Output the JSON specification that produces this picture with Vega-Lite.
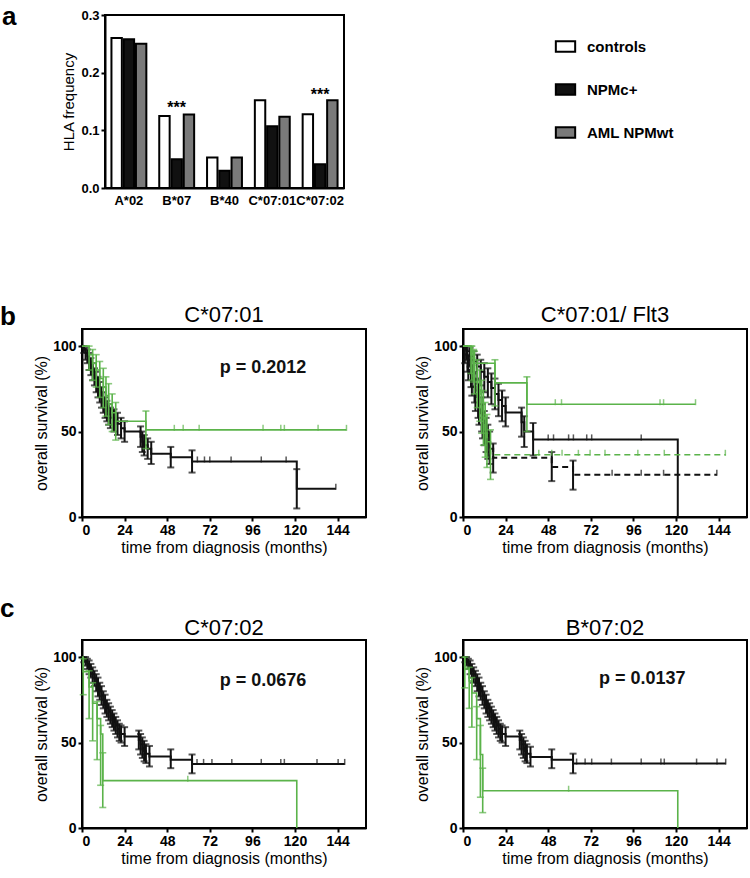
{
  "$schema": "https://vega.github.io/schema/vega-lite/v6.json",
  "padding": {"left": 0, "top": 3, "right": 2, "bottom": 0},
  "background": "white",
  "config": {
    "font": "Liberation Sans",
    "view": {"stroke": "black", "strokeWidth": 2},
    "axis": {"domainColor": "black", "domainWidth": 2, "tickColor": "black", "tickWidth": 2, "tickSize": 4, "labelColor": "black", "labelFontWeight": "bold", "labelFontSize": 14, "titleColor": "black", "titleFontWeight": "normal", "titleFontSize": 16, "grid": false, "labelPadding": 2, "titlePadding": 3},
    "title": {"color": "black", "fontWeight": "normal", "font": "Liberation Sans"}
  },
  "datasets": {
    "steps": [
      {"p":"b1","c":"k","g":"k","d":"solid","t":0,"s":100},{"p":"b1","c":"k","g":"k","d":"solid","t":1,"s":98},{"p":"b1","c":"k","g":"k","d":"solid","t":2,"s":96},{"p":"b1","c":"k","g":"k","d":"solid","t":3,"s":94},{"p":"b1","c":"k","g":"k","d":"solid","t":4,"s":91},{"p":"b1","c":"k","g":"k","d":"solid","t":5,"s":88},{"p":"b1","c":"k","g":"k","d":"solid","t":6,"s":85},{"p":"b1","c":"k","g":"k","d":"solid","t":7,"s":82},{"p":"b1","c":"k","g":"k","d":"solid","t":8,"s":79},{"p":"b1","c":"k","g":"k","d":"solid","t":9,"s":76},{"p":"b1","c":"k","g":"k","d":"solid","t":10,"s":73},{"p":"b1","c":"k","g":"k","d":"solid","t":11,"s":70},{"p":"b1","c":"k","g":"k","d":"solid","t":12,"s":67},{"p":"b1","c":"k","g":"k","d":"solid","t":13,"s":64},{"p":"b1","c":"k","g":"k","d":"solid","t":14,"s":62},{"p":"b1","c":"k","g":"k","d":"solid","t":15,"s":60},{"p":"b1","c":"k","g":"k","d":"solid","t":16,"s":58},{"p":"b1","c":"k","g":"k","d":"solid","t":18,"s":56.5},{"p":"b1","c":"k","g":"k","d":"solid","t":20,"s":54.5},{"p":"b1","c":"k","g":"k","d":"solid","t":22,"s":52},{"p":"b1","c":"k","g":"k","d":"solid","t":24,"s":50},{"p":"b1","c":"k","g":"k","d":"solid","t":33,"s":47},{"p":"b1","c":"k","g":"k","d":"solid","t":34,"s":44},{"p":"b1","c":"k","g":"k","d":"solid","t":35,"s":42},{"p":"b1","c":"k","g":"k","d":"solid","t":37,"s":40},{"p":"b1","c":"k","g":"k","d":"solid","t":39,"s":37},{"p":"b1","c":"k","g":"k","d":"solid","t":50,"s":35},{"p":"b1","c":"k","g":"k","d":"solid","t":62,"s":32.5},{"p":"b1","c":"k","g":"k","d":"solid","t":121,"s":16.5},{"p":"b1","c":"k","g":"k","d":"solid","t":143,"s":16.5},
      {"p":"b1","c":"g","g":"g","d":"solid","t":0,"s":100},{"p":"b1","c":"g","g":"g","d":"solid","t":4,"s":95},{"p":"b1","c":"g","g":"g","d":"solid","t":6,"s":90},{"p":"b1","c":"g","g":"g","d":"solid","t":8,"s":86},{"p":"b1","c":"g","g":"g","d":"solid","t":10,"s":81},{"p":"b1","c":"g","g":"g","d":"solid","t":12,"s":76},{"p":"b1","c":"g","g":"g","d":"solid","t":13.5,"s":71},{"p":"b1","c":"g","g":"g","d":"solid","t":15,"s":66},{"p":"b1","c":"g","g":"g","d":"solid","t":17,"s":61},{"p":"b1","c":"g","g":"g","d":"solid","t":19,"s":56},{"p":"b1","c":"g","g":"g","d":"solid","t":36,"s":51},{"p":"b1","c":"g","g":"g","d":"solid","t":149,"s":51},
      {"p":"b2","c":"g1","g":"g","d":"solid","t":0,"s":100},{"p":"b2","c":"g1","g":"g","d":"solid","t":4.5,"s":95},{"p":"b2","c":"g1","g":"g","d":"solid","t":6,"s":90},{"p":"b2","c":"g1","g":"g","d":"solid","t":18,"s":78.5},{"p":"b2","c":"g1","g":"g","d":"solid","t":36,"s":66},{"p":"b2","c":"g1","g":"g","d":"solid","t":131,"s":66},
      {"p":"b2","c":"g2","g":"g","d":"dash","t":0,"s":100},{"p":"b2","c":"g2","g":"g","d":"dash","t":5,"s":93},{"p":"b2","c":"g2","g":"g","d":"dash","t":6.5,"s":86},{"p":"b2","c":"g2","g":"g","d":"dash","t":8,"s":79},{"p":"b2","c":"g2","g":"g","d":"dash","t":9.5,"s":72},{"p":"b2","c":"g2","g":"g","d":"dash","t":10.5,"s":65},{"p":"b2","c":"g2","g":"g","d":"dash","t":11.5,"s":58},{"p":"b2","c":"g2","g":"g","d":"dash","t":12.5,"s":51},{"p":"b2","c":"g2","g":"g","d":"dash","t":13.5,"s":44},{"p":"b2","c":"g2","g":"g","d":"dash","t":15.5,"s":36.4},{"p":"b2","c":"g2","g":"g","d":"dash","t":148,"s":36.4},
      {"p":"b2","c":"k1","g":"k","d":"solid","t":0,"s":100},{"p":"b2","c":"k1","g":"k","d":"solid","t":2,"s":97},{"p":"b2","c":"k1","g":"k","d":"solid","t":4,"s":94},{"p":"b2","c":"k1","g":"k","d":"solid","t":6,"s":91},{"p":"b2","c":"k1","g":"k","d":"solid","t":8,"s":88},{"p":"b2","c":"k1","g":"k","d":"solid","t":10,"s":85},{"p":"b2","c":"k1","g":"k","d":"solid","t":12,"s":82},{"p":"b2","c":"k1","g":"k","d":"solid","t":14,"s":79},{"p":"b2","c":"k1","g":"k","d":"solid","t":16,"s":75.5},{"p":"b2","c":"k1","g":"k","d":"solid","t":18,"s":72},{"p":"b2","c":"k1","g":"k","d":"solid","t":20,"s":68.5},{"p":"b2","c":"k1","g":"k","d":"solid","t":22,"s":65},{"p":"b2","c":"k1","g":"k","d":"solid","t":24,"s":61.2},{"p":"b2","c":"k1","g":"k","d":"solid","t":33,"s":55.5},{"p":"b2","c":"k1","g":"k","d":"solid","t":34.5,"s":50},{"p":"b2","c":"k1","g":"k","d":"solid","t":39.5,"s":45.4},{"p":"b2","c":"k1","g":"k","d":"solid","t":121,"s":0},
      {"p":"b2","c":"k2","g":"k","d":"dash","t":0,"s":100},{"p":"b2","c":"k2","g":"k","d":"dash","t":1,"s":96},{"p":"b2","c":"k2","g":"k","d":"dash","t":2,"s":92},{"p":"b2","c":"k2","g":"k","d":"dash","t":3,"s":88},{"p":"b2","c":"k2","g":"k","d":"dash","t":4,"s":84},{"p":"b2","c":"k2","g":"k","d":"dash","t":5,"s":80},{"p":"b2","c":"k2","g":"k","d":"dash","t":6,"s":76},{"p":"b2","c":"k2","g":"k","d":"dash","t":7,"s":72},{"p":"b2","c":"k2","g":"k","d":"dash","t":8,"s":68},{"p":"b2","c":"k2","g":"k","d":"dash","t":9,"s":64},{"p":"b2","c":"k2","g":"k","d":"dash","t":10,"s":60},{"p":"b2","c":"k2","g":"k","d":"dash","t":11,"s":56},{"p":"b2","c":"k2","g":"k","d":"dash","t":12,"s":52},{"p":"b2","c":"k2","g":"k","d":"dash","t":13,"s":48},{"p":"b2","c":"k2","g":"k","d":"dash","t":14,"s":44},{"p":"b2","c":"k2","g":"k","d":"dash","t":15,"s":40},{"p":"b2","c":"k2","g":"k","d":"dash","t":17,"s":34.6},{"p":"b2","c":"k2","g":"k","d":"dash","t":50,"s":29.3},{"p":"b2","c":"k2","g":"k","d":"dash","t":62,"s":24.7},{"p":"b2","c":"k2","g":"k","d":"dash","t":143,"s":24.7},
      {"p":"c1","c":"k","g":"k","d":"solid","t":0,"s":100},{"p":"c1","c":"k","g":"k","d":"solid","t":1,"s":99},{"p":"c1","c":"k","g":"k","d":"solid","t":2,"s":97.5},{"p":"c1","c":"k","g":"k","d":"solid","t":3,"s":96},{"p":"c1","c":"k","g":"k","d":"solid","t":4,"s":94},{"p":"c1","c":"k","g":"k","d":"solid","t":5,"s":92},{"p":"c1","c":"k","g":"k","d":"solid","t":6,"s":90},{"p":"c1","c":"k","g":"k","d":"solid","t":7,"s":87.5},{"p":"c1","c":"k","g":"k","d":"solid","t":8,"s":85},{"p":"c1","c":"k","g":"k","d":"solid","t":9,"s":82.5},{"p":"c1","c":"k","g":"k","d":"solid","t":10,"s":80},{"p":"c1","c":"k","g":"k","d":"solid","t":11,"s":77.5},{"p":"c1","c":"k","g":"k","d":"solid","t":12,"s":75},{"p":"c1","c":"k","g":"k","d":"solid","t":13,"s":72.5},{"p":"c1","c":"k","g":"k","d":"solid","t":14,"s":70},{"p":"c1","c":"k","g":"k","d":"solid","t":15,"s":68},{"p":"c1","c":"k","g":"k","d":"solid","t":16,"s":66},{"p":"c1","c":"k","g":"k","d":"solid","t":17,"s":64},{"p":"c1","c":"k","g":"k","d":"solid","t":18,"s":62},{"p":"c1","c":"k","g":"k","d":"solid","t":19,"s":60},{"p":"c1","c":"k","g":"k","d":"solid","t":20,"s":58},{"p":"c1","c":"k","g":"k","d":"solid","t":21,"s":56},{"p":"c1","c":"k","g":"k","d":"solid","t":22,"s":55},{"p":"c1","c":"k","g":"k","d":"solid","t":24,"s":53.6},{"p":"c1","c":"k","g":"k","d":"solid","t":32,"s":51.5},{"p":"c1","c":"k","g":"k","d":"solid","t":33,"s":49},{"p":"c1","c":"k","g":"k","d":"solid","t":34,"s":47},{"p":"c1","c":"k","g":"k","d":"solid","t":35,"s":45},{"p":"c1","c":"k","g":"k","d":"solid","t":36,"s":43.5},{"p":"c1","c":"k","g":"k","d":"solid","t":38,"s":41.8},{"p":"c1","c":"k","g":"k","d":"solid","t":50,"s":40},{"p":"c1","c":"k","g":"k","d":"solid","t":62,"s":37.5},{"p":"c1","c":"k","g":"k","d":"solid","t":148,"s":37.5},
      {"p":"c1","c":"g","g":"g","d":"solid","t":0,"s":100},{"p":"c1","c":"g","g":"g","d":"solid","t":0.7,"s":91.5},{"p":"c1","c":"g","g":"g","d":"solid","t":4,"s":82.5},{"p":"c1","c":"g","g":"g","d":"solid","t":6,"s":73},{"p":"c1","c":"g","g":"g","d":"solid","t":8.5,"s":64},{"p":"c1","c":"g","g":"g","d":"solid","t":10.5,"s":55},{"p":"c1","c":"g","g":"g","d":"solid","t":11.7,"s":27.7},{"p":"c1","c":"g","g":"g","d":"solid","t":121,"s":0},
      {"p":"c2","c":"k","g":"k","d":"solid","t":0,"s":100},{"p":"c2","c":"k","g":"k","d":"solid","t":1,"s":99},{"p":"c2","c":"k","g":"k","d":"solid","t":2,"s":97.5},{"p":"c2","c":"k","g":"k","d":"solid","t":3,"s":96},{"p":"c2","c":"k","g":"k","d":"solid","t":4,"s":94},{"p":"c2","c":"k","g":"k","d":"solid","t":5,"s":92},{"p":"c2","c":"k","g":"k","d":"solid","t":6,"s":90},{"p":"c2","c":"k","g":"k","d":"solid","t":7,"s":87.5},{"p":"c2","c":"k","g":"k","d":"solid","t":8,"s":85},{"p":"c2","c":"k","g":"k","d":"solid","t":9,"s":82.5},{"p":"c2","c":"k","g":"k","d":"solid","t":10,"s":80},{"p":"c2","c":"k","g":"k","d":"solid","t":11,"s":77.5},{"p":"c2","c":"k","g":"k","d":"solid","t":12,"s":75},{"p":"c2","c":"k","g":"k","d":"solid","t":13,"s":72.5},{"p":"c2","c":"k","g":"k","d":"solid","t":14,"s":70},{"p":"c2","c":"k","g":"k","d":"solid","t":15,"s":68},{"p":"c2","c":"k","g":"k","d":"solid","t":16,"s":66},{"p":"c2","c":"k","g":"k","d":"solid","t":17,"s":64},{"p":"c2","c":"k","g":"k","d":"solid","t":18,"s":62},{"p":"c2","c":"k","g":"k","d":"solid","t":19,"s":60},{"p":"c2","c":"k","g":"k","d":"solid","t":20,"s":58},{"p":"c2","c":"k","g":"k","d":"solid","t":21,"s":56},{"p":"c2","c":"k","g":"k","d":"solid","t":22,"s":55},{"p":"c2","c":"k","g":"k","d":"solid","t":24,"s":53.6},{"p":"c2","c":"k","g":"k","d":"solid","t":32,"s":51.5},{"p":"c2","c":"k","g":"k","d":"solid","t":33,"s":49},{"p":"c2","c":"k","g":"k","d":"solid","t":34,"s":47},{"p":"c2","c":"k","g":"k","d":"solid","t":35,"s":45},{"p":"c2","c":"k","g":"k","d":"solid","t":36,"s":43.5},{"p":"c2","c":"k","g":"k","d":"solid","t":38,"s":41.5},{"p":"c2","c":"k","g":"k","d":"solid","t":50,"s":40},{"p":"c2","c":"k","g":"k","d":"solid","t":62,"s":37.7},{"p":"c2","c":"k","g":"k","d":"solid","t":148,"s":37.7},
      {"p":"c2","c":"g","g":"g","d":"solid","t":0,"s":100},{"p":"c2","c":"g","g":"g","d":"solid","t":1,"s":93},{"p":"c2","c":"g","g":"g","d":"solid","t":3.5,"s":86},{"p":"c2","c":"g","g":"g","d":"solid","t":5,"s":79},{"p":"c2","c":"g","g":"g","d":"solid","t":7.7,"s":64},{"p":"c2","c":"g","g":"g","d":"solid","t":9.8,"s":43},{"p":"c2","c":"g","g":"g","d":"solid","t":11.1,"s":21.8},{"p":"c2","c":"g","g":"g","d":"solid","t":121,"s":0}
    ],
    "bars": [
      {"p":"b1","g":"k","t":1,"s":96,"s2":100},{"p":"b1","g":"k","t":2,"s":92,"s2":99},{"p":"b1","g":"k","t":3,"s":90,"s2":98},{"p":"b1","g":"k","t":4,"s":86,"s2":96},{"p":"b1","g":"k","t":5,"s":83,"s2":93},{"p":"b1","g":"k","t":6,"s":80,"s2":90},{"p":"b1","g":"k","t":7,"s":77,"s2":87},{"p":"b1","g":"k","t":8,"s":73,"s2":85},{"p":"b1","g":"k","t":9,"s":70,"s2":82},{"p":"b1","g":"k","t":10,"s":67,"s2":79},{"p":"b1","g":"k","t":11,"s":64,"s2":76},{"p":"b1","g":"k","t":12,"s":61,"s2":73},{"p":"b1","g":"k","t":13,"s":58,"s2":70},{"p":"b1","g":"k","t":14,"s":56,"s2":68},{"p":"b1","g":"k","t":15,"s":54,"s2":66},{"p":"b1","g":"k","t":16,"s":52,"s2":64},{"p":"b1","g":"k","t":18,"s":50,"s2":63},{"p":"b1","g":"k","t":20,"s":48,"s2":61},{"p":"b1","g":"k","t":22,"s":46,"s2":58},{"p":"b1","g":"k","t":24,"s":44,"s2":56},{"p":"b1","g":"k","t":33,"s":41,"s2":53},{"p":"b1","g":"k","t":34,"s":38,"s2":50},{"p":"b1","g":"k","t":35,"s":36,"s2":48},{"p":"b1","g":"k","t":37,"s":34,"s2":46},{"p":"b1","g":"k","t":39,"s":31,"s2":44},{"p":"b1","g":"k","t":50,"s":29,"s2":41},{"p":"b1","g":"k","t":62,"s":26,"s2":39},{"p":"b1","g":"k","t":121,"s":5,"s2":28},
      {"p":"b1","g":"g","t":4,"s":86,"s2":100},{"p":"b1","g":"g","t":6,"s":80,"s2":98},{"p":"b1","g":"g","t":8,"s":76,"s2":95},{"p":"b1","g":"g","t":10,"s":70,"s2":91},{"p":"b1","g":"g","t":12,"s":64,"s2":87},{"p":"b1","g":"g","t":13.5,"s":59,"s2":82},{"p":"b1","g":"g","t":15,"s":54,"s2":78},{"p":"b1","g":"g","t":17,"s":50,"s2":72},{"p":"b1","g":"g","t":19,"s":45,"s2":67},{"p":"b1","g":"g","t":36,"s":40,"s2":62},
      {"p":"b2","g":"g","t":4.5,"s":84,"s2":100},{"p":"b2","g":"g","t":6,"s":79,"s2":98},{"p":"b2","g":"g","t":18,"s":65,"s2":92},{"p":"b2","g":"g","t":36,"s":50,"s2":82},
      {"p":"b2","g":"g","t":5,"s":80,"s2":100},{"p":"b2","g":"g","t":6.5,"s":72,"s2":97},{"p":"b2","g":"g","t":8,"s":64,"s2":92},{"p":"b2","g":"g","t":9.5,"s":56,"s2":86},{"p":"b2","g":"g","t":10.5,"s":49,"s2":80},{"p":"b2","g":"g","t":11.5,"s":42,"s2":74},{"p":"b2","g":"g","t":12.5,"s":35,"s2":67},{"p":"b2","g":"g","t":13.5,"s":29,"s2":60},{"p":"b2","g":"g","t":15.5,"s":22,"s2":51},
      {"p":"b2","g":"k","t":2,"s":92,"s2":100},{"p":"b2","g":"k","t":4,"s":88,"s2":99},{"p":"b2","g":"k","t":6,"s":84,"s2":97},{"p":"b2","g":"k","t":8,"s":80,"s2":95},{"p":"b2","g":"k","t":10,"s":77,"s2":92},{"p":"b2","g":"k","t":12,"s":73,"s2":90},{"p":"b2","g":"k","t":14,"s":70,"s2":87},{"p":"b2","g":"k","t":16,"s":66,"s2":84},{"p":"b2","g":"k","t":18,"s":63,"s2":81},{"p":"b2","g":"k","t":20,"s":59,"s2":78},{"p":"b2","g":"k","t":22,"s":56,"s2":74},{"p":"b2","g":"k","t":24,"s":53,"s2":70},{"p":"b2","g":"k","t":33,"s":47,"s2":64},{"p":"b2","g":"k","t":34.5,"s":41,"s2":59},{"p":"b2","g":"k","t":39.5,"s":36,"s2":55},
      {"p":"b2","g":"k","t":1,"s":90,"s2":100},{"p":"b2","g":"k","t":2.5,"s":85,"s2":98},{"p":"b2","g":"k","t":3,"s":80,"s2":95},{"p":"b2","g":"k","t":4.5,"s":76,"s2":92},{"p":"b2","g":"k","t":5,"s":71,"s2":89},{"p":"b2","g":"k","t":6.5,"s":67,"s2":85},{"p":"b2","g":"k","t":7,"s":62,"s2":81},{"p":"b2","g":"k","t":8.5,"s":58,"s2":78},{"p":"b2","g":"k","t":9,"s":54,"s2":74},{"p":"b2","g":"k","t":10.5,"s":50,"s2":70},{"p":"b2","g":"k","t":11,"s":46,"s2":66},{"p":"b2","g":"k","t":12,"s":42,"s2":62},{"p":"b2","g":"k","t":13,"s":38,"s2":58},{"p":"b2","g":"k","t":14,"s":34,"s2":54},{"p":"b2","g":"k","t":15,"s":31,"s2":50},{"p":"b2","g":"k","t":17,"s":26,"s2":43},{"p":"b2","g":"k","t":50,"s":21,"s2":38},{"p":"b2","g":"k","t":62,"s":16,"s2":33},
      {"p":"c1","g":"k","t":1,"s":97,"s2":100},{"p":"c1","g":"k","t":2,"s":95,"s2":100},{"p":"c1","g":"k","t":3,"s":93,"s2":99},{"p":"c1","g":"k","t":4,"s":90,"s2":98},{"p":"c1","g":"k","t":5,"s":88,"s2":96},{"p":"c1","g":"k","t":6,"s":85,"s2":94},{"p":"c1","g":"k","t":7,"s":83,"s2":92},{"p":"c1","g":"k","t":8,"s":80,"s2":90},{"p":"c1","g":"k","t":9,"s":77,"s2":88},{"p":"c1","g":"k","t":10,"s":75,"s2":85},{"p":"c1","g":"k","t":11,"s":72,"s2":83},{"p":"c1","g":"k","t":12,"s":70,"s2":80},{"p":"c1","g":"k","t":13,"s":67,"s2":78},{"p":"c1","g":"k","t":14,"s":65,"s2":75},{"p":"c1","g":"k","t":15,"s":63,"s2":73},{"p":"c1","g":"k","t":16,"s":61,"s2":71},{"p":"c1","g":"k","t":17,"s":59,"s2":69},{"p":"c1","g":"k","t":18,"s":57,"s2":67},{"p":"c1","g":"k","t":19,"s":55,"s2":65},{"p":"c1","g":"k","t":20,"s":53,"s2":63},{"p":"c1","g":"k","t":21,"s":51,"s2":61},{"p":"c1","g":"k","t":22,"s":50,"s2":60},{"p":"c1","g":"k","t":24,"s":48,"s2":59},{"p":"c1","g":"k","t":32,"s":46,"s2":57},{"p":"c1","g":"k","t":33,"s":43,"s2":55},{"p":"c1","g":"k","t":34,"s":41,"s2":53},{"p":"c1","g":"k","t":35,"s":39,"s2":51},{"p":"c1","g":"k","t":36,"s":38,"s2":49},{"p":"c1","g":"k","t":38,"s":36,"s2":48},{"p":"c1","g":"k","t":50,"s":35,"s2":46},{"p":"c1","g":"k","t":62,"s":32,"s2":43},
      {"p":"c1","g":"g","t":0.7,"s":78,"s2":99},{"p":"c1","g":"g","t":4,"s":64,"s2":92},{"p":"c1","g":"g","t":6,"s":51,"s2":85},{"p":"c1","g":"g","t":8.5,"s":40,"s2":74},{"p":"c1","g":"g","t":10.5,"s":25,"s2":60},{"p":"c1","g":"g","t":11.7,"s":12,"s2":44},
      {"p":"c2","g":"k","t":1,"s":97,"s2":100},{"p":"c2","g":"k","t":2,"s":95,"s2":100},{"p":"c2","g":"k","t":3,"s":93,"s2":99},{"p":"c2","g":"k","t":4,"s":90,"s2":98},{"p":"c2","g":"k","t":5,"s":88,"s2":96},{"p":"c2","g":"k","t":6,"s":85,"s2":94},{"p":"c2","g":"k","t":7,"s":83,"s2":92},{"p":"c2","g":"k","t":8,"s":80,"s2":90},{"p":"c2","g":"k","t":9,"s":77,"s2":88},{"p":"c2","g":"k","t":10,"s":75,"s2":85},{"p":"c2","g":"k","t":11,"s":72,"s2":83},{"p":"c2","g":"k","t":12,"s":70,"s2":80},{"p":"c2","g":"k","t":13,"s":67,"s2":78},{"p":"c2","g":"k","t":14,"s":65,"s2":75},{"p":"c2","g":"k","t":15,"s":63,"s2":73},{"p":"c2","g":"k","t":16,"s":61,"s2":71},{"p":"c2","g":"k","t":17,"s":59,"s2":69},{"p":"c2","g":"k","t":18,"s":57,"s2":67},{"p":"c2","g":"k","t":19,"s":55,"s2":65},{"p":"c2","g":"k","t":20,"s":53,"s2":63},{"p":"c2","g":"k","t":21,"s":51,"s2":61},{"p":"c2","g":"k","t":22,"s":50,"s2":60},{"p":"c2","g":"k","t":24,"s":48,"s2":59},{"p":"c2","g":"k","t":32,"s":46,"s2":57},{"p":"c2","g":"k","t":33,"s":43,"s2":55},{"p":"c2","g":"k","t":34,"s":41,"s2":53},{"p":"c2","g":"k","t":35,"s":39,"s2":51},{"p":"c2","g":"k","t":36,"s":38,"s2":49},{"p":"c2","g":"k","t":38,"s":36,"s2":47.5},{"p":"c2","g":"k","t":50,"s":35,"s2":46},{"p":"c2","g":"k","t":62,"s":32,"s2":43.5},
      {"p":"c2","g":"g","t":1,"s":82,"s2":100},{"p":"c2","g":"g","t":3.5,"s":70,"s2":94},{"p":"c2","g":"g","t":5,"s":59,"s2":88},{"p":"c2","g":"g","t":7.7,"s":40,"s2":71},{"p":"c2","g":"g","t":9.8,"s":18,"s2":60},{"p":"c2","g":"g","t":11.1,"s":9,"s2":35}
    ],
    "cens": [
      {"p":"b1","g":"k","t":65,"s":32.5},{"p":"b1","g":"k","t":69,"s":32.5},{"p":"b1","g":"k","t":72,"s":32.5},{"p":"b1","g":"k","t":84,"s":32.5},{"p":"b1","g":"k","t":101,"s":32.5},{"p":"b1","g":"k","t":115,"s":32.5},{"p":"b1","g":"k","t":143,"s":16.5},
      {"p":"b1","g":"g","t":52,"s":51},{"p":"b1","g":"g","t":57,"s":51},{"p":"b1","g":"g","t":66,"s":51},{"p":"b1","g":"g","t":102,"s":51},{"p":"b1","g":"g","t":112,"s":51},{"p":"b1","g":"g","t":114,"s":51},{"p":"b1","g":"g","t":133,"s":51},{"p":"b1","g":"g","t":149,"s":51},
      {"p":"b2","g":"g","t":52,"s":66},{"p":"b2","g":"g","t":55.5,"s":66},{"p":"b2","g":"g","t":111,"s":66},{"p":"b2","g":"g","t":113,"s":66},{"p":"b2","g":"g","t":131,"s":66},
      {"p":"b2","g":"g","t":42.7,"s":36.4},{"p":"b2","g":"g","t":50,"s":36.4},{"p":"b2","g":"g","t":55.8,"s":36.4},{"p":"b2","g":"g","t":65,"s":36.4},{"p":"b2","g":"g","t":71.6,"s":36.4},{"p":"b2","g":"g","t":80,"s":36.4},{"p":"b2","g":"g","t":98.5,"s":36.4},{"p":"b2","g":"g","t":113.4,"s":36.4},{"p":"b2","g":"g","t":147.8,"s":36.4},
      {"p":"b2","g":"k","t":48,"s":45.4},{"p":"b2","g":"k","t":51,"s":45.4},{"p":"b2","g":"k","t":59.5,"s":45.4},{"p":"b2","g":"k","t":62.2,"s":45.4},{"p":"b2","g":"k","t":69.7,"s":45.4},{"p":"b2","g":"k","t":72.5,"s":45.4},{"p":"b2","g":"k","t":100.4,"s":45.4},
      {"p":"b2","g":"k","t":84,"s":24.7},{"p":"b2","g":"k","t":100.4,"s":24.7},{"p":"b2","g":"k","t":113,"s":24.7},{"p":"b2","g":"k","t":143,"s":24.7},
      {"p":"c1","g":"k","t":64.8,"s":37.5},{"p":"c1","g":"k","t":68.5,"s":37.5},{"p":"c1","g":"k","t":73.2,"s":37.5},{"p":"c1","g":"k","t":84.4,"s":37.5},{"p":"c1","g":"k","t":101,"s":37.5},{"p":"c1","g":"k","t":112,"s":37.5},{"p":"c1","g":"k","t":114,"s":37.5},{"p":"c1","g":"k","t":132.4,"s":37.5},{"p":"c1","g":"k","t":144.3,"s":37.5},{"p":"c1","g":"k","t":148,"s":37.5},
      {"p":"c1","g":"g","t":59.6,"s":27.7},
      {"p":"c2","g":"k","t":64,"s":37.7},{"p":"c2","g":"k","t":68.8,"s":37.7},{"p":"c2","g":"k","t":72.5,"s":37.7},{"p":"c2","g":"k","t":83.6,"s":37.7},{"p":"c2","g":"k","t":100.4,"s":37.7},{"p":"c2","g":"k","t":111.5,"s":37.7},{"p":"c2","g":"k","t":113.4,"s":37.7},{"p":"c2","g":"k","t":131.6,"s":37.7},{"p":"c2","g":"k","t":143.1,"s":37.7},{"p":"c2","g":"k","t":148,"s":37.7},
      {"p":"c2","g":"g","t":59.5,"s":21.8}
    ],
    "pvals": [
      {"p":"b1","label":"p = 0.2012","t":102,"s":87},
      {"p":"c1","label":"p = 0.0676","t":102,"s":86},
      {"p":"c2","label":"p = 0.0137","t":101,"s":87}
    ],
    "hla": [
      {"allele":"A*02","group":"controls","freq":0.260},{"allele":"A*02","group":"NPMc+","freq":0.258},{"allele":"A*02","group":"AML NPMwt","freq":0.250},
      {"allele":"B*07","group":"controls","freq":0.125},{"allele":"B*07","group":"NPMc+","freq":0.050},{"allele":"B*07","group":"AML NPMwt","freq":0.1275},
      {"allele":"B*40","group":"controls","freq":0.053},{"allele":"B*40","group":"NPMc+","freq":0.030},{"allele":"B*40","group":"AML NPMwt","freq":0.053},
      {"allele":"C*07:01","group":"controls","freq":0.152},{"allele":"C*07:01","group":"NPMc+","freq":0.107},{"allele":"C*07:01","group":"AML NPMwt","freq":0.1235},
      {"allele":"C*07:02","group":"controls","freq":0.128},{"allele":"C*07:02","group":"NPMc+","freq":0.041},{"allele":"C*07:02","group":"AML NPMwt","freq":0.152}
    ]
  },
  "spacing": 95,
  "vconcat": [
    {
      "bounds": "flush",
      "spacing": 22,
      "hconcat": [
        {"width": 1, "height": 10, "view": {"stroke": null}, "data": {"values": []}, "mark": {"type": "point", "opacity": 0}, "encoding": {}},
        {
          "title": {"text": "a", "anchor": "start", "frame": "group", "fontSize": 26, "fontWeight": "bold", "baseline": "alphabetic", "offset": 0, "dx": -103, "dy": 42},
          "width": 239,
          "height": 173,
          "encoding": {
            "x": {"field": "allele", "type": "nominal", "sort": ["A*02","B*07","B*40","C*07:01","C*07:02"], "scale": {"paddingInner": 0.27, "paddingOuter": 0.135}, "axis": {"title": null, "ticks": false, "labelAngle": 0, "labelFontSize": 13, "labelPadding": 6}},
            "y": {"field": "freq", "type": "quantitative", "title": "HLA frequency", "scale": {"domain": [0, 0.3], "nice": false}, "axis": {"values": [0, 0.1, 0.2, 0.3], "format": ".1f", "labelFontSize": 13, "titleFontSize": 15, "titlePadding": 4}}
          },
          "layer": [
            {
              "data": {"name": "hla"},
              "mark": {"type": "bar", "stroke": "black", "strokeWidth": 2},
              "encoding": {
                "xOffset": {"field": "group", "type": "nominal", "sort": ["controls","NPMc+","AML NPMwt"], "scale": {"paddingInner": 0.15}},
                "fill": {"field": "group", "type": "nominal", "sort": ["controls","NPMc+","AML NPMwt"], "scale": {"domain": ["controls","NPMc+","AML NPMwt"], "range": ["white","#111111","#7a7a7a"]},
                  "legend": {"orient": "none", "legendX": 476, "legendY": 24, "title": null, "symbolType": "M-1.6,-0.85H1.6V0.85H-1.6Z", "symbolSize": 146, "symbolStrokeColor": "black", "symbolStrokeWidth": 2, "labelFontSize": 15, "labelFontWeight": "bold", "labelColor": "black", "labelOffset": 14, "rowPadding": 24}}
              }
            },
            {
              "data": {"values": [{"allele": "B*07", "freq": 0.146, "lab": "***"}, {"allele": "C*07:02", "freq": 0.168, "lab": "***"}]},
              "mark": {"type": "text", "fontSize": 16, "fontWeight": "bold", "baseline": "middle", "dy": 4, "color": "black"},
              "encoding": {"text": {"field": "lab"}}
            }
          ]
        }
      ]
    },
    {
      "spacing": 40,
      "vconcat": [
        {
          "title": {"text": "b", "anchor": "start", "frame": "group", "fontSize": 26, "fontWeight": "bold", "baseline": "alphabetic", "offset": 0, "dx": -82, "dy": 48},
          "spacing": 46,
          "hconcat": [
            {
              "title": {"text": "C*07:01", "fontSize": 22, "offset": 2},
              "width": 284, "height": 188,
              "encoding": {
                "x": {"field": "t", "type": "quantitative", "title": "time from diagnosis (months)", "scale": {"domain": [0, 160], "nice": false}, "axis": {"values": [0,24,48,72,96,120,144], "titlePadding": 2}},
                "y": {"field": "s", "type": "quantitative", "title": "overall survival (%)", "scale": {"domain": [0, 110], "nice": false}, "axis": {"values": [0,50,100]}}
              },
              "layer": [
                {"data": {"name": "steps"}, "transform": [{"filter": "datum.p === 'b1' && datum.g === 'k'"}], "mark": {"type": "line", "interpolate": "step-after", "strokeWidth": 2, "color": "#111111"}, "encoding": {"detail": {"field": "c"}, "strokeDash": {"field": "d", "type": "nominal", "scale": {"domain": ["solid","dash"], "range": [[1,0],[6,4]]}, "legend": null}}},
                {"data": {"name": "bars"}, "transform": [{"filter": "datum.p === 'b1' && datum.g === 'k'"}], "mark": {"type": "errorbar", "ticks": true, "size": 7, "thickness": 2, "color": "#111111"}, "encoding": {"y2": {"field": "s2"}}},
                {"data": {"name": "steps"}, "transform": [{"filter": "datum.p === 'b1' && datum.g === 'g'"}], "mark": {"type": "line", "interpolate": "step-after", "strokeWidth": 1.6, "color": "#5bb34a"}, "encoding": {"detail": {"field": "c"}, "strokeDash": {"field": "d", "type": "nominal", "scale": {"domain": ["solid","dash"], "range": [[1,0],[6,4]]}, "legend": null}}},
                {"data": {"name": "bars"}, "transform": [{"filter": "datum.p === 'b1' && datum.g === 'g'"}], "mark": {"type": "errorbar", "ticks": true, "size": 7, "thickness": 1.6, "color": "#5bb34a"}, "encoding": {"y2": {"field": "s2"}}},
                {"data": {"name": "cens"}, "transform": [{"filter": "datum.p === 'b1'"}], "mark": {"type": "tick", "orient": "vertical", "size": 6, "thickness": 1.5, "yOffset": -2}, "encoding": {"color": {"field": "g", "type": "nominal", "scale": {"domain": ["k","g"], "range": ["#111111","#5bb34a"]}, "legend": null}}},
                {"data": {"name": "pvals"}, "transform": [{"filter": "datum.p === 'b1'"}], "mark": {"type": "text", "fontSize": 18, "fontWeight": "bold", "color": "#111111"}, "encoding": {"text": {"field": "label", "type": "nominal"}}}
              ]
            },
            {
              "title": {"text": "C*07:01/ Flt3", "fontSize": 22, "offset": 2},
              "width": 284, "height": 188,
              "encoding": {
                "x": {"field": "t", "type": "quantitative", "title": "time from diagnosis (months)", "scale": {"domain": [0, 160], "nice": false}, "axis": {"values": [0,24,48,72,96,120,144], "titlePadding": 2}},
                "y": {"field": "s", "type": "quantitative", "title": "overall survival (%)", "scale": {"domain": [0, 110], "nice": false}, "axis": {"values": [0,50,100]}}
              },
              "layer": [
                {"data": {"name": "steps"}, "transform": [{"filter": "datum.p === 'b2' && datum.g === 'k'"}], "mark": {"type": "line", "interpolate": "step-after", "strokeWidth": 2, "color": "#111111"}, "encoding": {"detail": {"field": "c"}, "strokeDash": {"field": "d", "type": "nominal", "scale": {"domain": ["solid","dash"], "range": [[1,0],[6,4]]}, "legend": null}}},
                {"data": {"name": "bars"}, "transform": [{"filter": "datum.p === 'b2' && datum.g === 'k'"}], "mark": {"type": "errorbar", "ticks": true, "size": 7, "thickness": 2, "color": "#111111"}, "encoding": {"y2": {"field": "s2"}}},
                {"data": {"name": "steps"}, "transform": [{"filter": "datum.p === 'b2' && datum.g === 'g'"}], "mark": {"type": "line", "interpolate": "step-after", "strokeWidth": 1.6, "color": "#5bb34a"}, "encoding": {"detail": {"field": "c"}, "strokeDash": {"field": "d", "type": "nominal", "scale": {"domain": ["solid","dash"], "range": [[1,0],[6,4]]}, "legend": null}}},
                {"data": {"name": "bars"}, "transform": [{"filter": "datum.p === 'b2' && datum.g === 'g'"}], "mark": {"type": "errorbar", "ticks": true, "size": 7, "thickness": 1.6, "color": "#5bb34a"}, "encoding": {"y2": {"field": "s2"}}},
                {"data": {"name": "cens"}, "transform": [{"filter": "datum.p === 'b2'"}], "mark": {"type": "tick", "orient": "vertical", "size": 6, "thickness": 1.5, "yOffset": -2}, "encoding": {"color": {"field": "g", "type": "nominal", "scale": {"domain": ["k","g"], "range": ["#111111","#5bb34a"]}, "legend": null}}}
              ]
            }
          ]
        },
        {
          "title": {"text": "c", "anchor": "start", "frame": "group", "fontSize": 26, "fontWeight": "bold", "baseline": "alphabetic", "offset": 0, "dx": -82, "dy": 27},
          "spacing": 46,
          "hconcat": [
            {
              "title": {"text": "C*07:02", "fontSize": 22, "offset": 0},
              "width": 284, "height": 188,
              "encoding": {
                "x": {"field": "t", "type": "quantitative", "title": "time from diagnosis (months)", "scale": {"domain": [0, 160], "nice": false}, "axis": {"values": [0,24,48,72,96,120,144], "titlePadding": 2}},
                "y": {"field": "s", "type": "quantitative", "title": "overall survival (%)", "scale": {"domain": [0, 110], "nice": false}, "axis": {"values": [0,50,100]}}
              },
              "layer": [
                {"data": {"name": "steps"}, "transform": [{"filter": "datum.p === 'c1' && datum.g === 'k'"}], "mark": {"type": "line", "interpolate": "step-after", "strokeWidth": 2, "color": "#111111"}, "encoding": {"detail": {"field": "c"}}},
                {"data": {"name": "bars"}, "transform": [{"filter": "datum.p === 'c1' && datum.g === 'k'"}], "mark": {"type": "errorbar", "ticks": true, "size": 7, "thickness": 2, "color": "#111111"}, "encoding": {"y2": {"field": "s2"}}},
                {"data": {"name": "steps"}, "transform": [{"filter": "datum.p === 'c1' && datum.g === 'g'"}], "mark": {"type": "line", "interpolate": "step-after", "strokeWidth": 1.6, "color": "#5bb34a"}, "encoding": {"detail": {"field": "c"}}},
                {"data": {"name": "bars"}, "transform": [{"filter": "datum.p === 'c1' && datum.g === 'g'"}], "mark": {"type": "errorbar", "ticks": true, "size": 7, "thickness": 1.6, "color": "#5bb34a"}, "encoding": {"y2": {"field": "s2"}}},
                {"data": {"name": "cens"}, "transform": [{"filter": "datum.p === 'c1'"}], "mark": {"type": "tick", "orient": "vertical", "size": 6, "thickness": 1.5, "yOffset": -2}, "encoding": {"color": {"field": "g", "type": "nominal", "scale": {"domain": ["k","g"], "range": ["#111111","#5bb34a"]}, "legend": null}}},
                {"data": {"name": "pvals"}, "transform": [{"filter": "datum.p === 'c1'"}], "mark": {"type": "text", "fontSize": 18, "fontWeight": "bold", "color": "#111111"}, "encoding": {"text": {"field": "label", "type": "nominal"}}}
              ]
            },
            {
              "title": {"text": "B*07:02", "fontSize": 22, "offset": 0},
              "width": 284, "height": 188,
              "encoding": {
                "x": {"field": "t", "type": "quantitative", "title": "time from diagnosis (months)", "scale": {"domain": [0, 160], "nice": false}, "axis": {"values": [0,24,48,72,96,120,144], "titlePadding": 2}},
                "y": {"field": "s", "type": "quantitative", "title": "overall survival (%)", "scale": {"domain": [0, 110], "nice": false}, "axis": {"values": [0,50,100]}}
              },
              "layer": [
                {"data": {"name": "steps"}, "transform": [{"filter": "datum.p === 'c2' && datum.g === 'k'"}], "mark": {"type": "line", "interpolate": "step-after", "strokeWidth": 2, "color": "#111111"}, "encoding": {"detail": {"field": "c"}}},
                {"data": {"name": "bars"}, "transform": [{"filter": "datum.p === 'c2' && datum.g === 'k'"}], "mark": {"type": "errorbar", "ticks": true, "size": 7, "thickness": 2, "color": "#111111"}, "encoding": {"y2": {"field": "s2"}}},
                {"data": {"name": "steps"}, "transform": [{"filter": "datum.p === 'c2' && datum.g === 'g'"}], "mark": {"type": "line", "interpolate": "step-after", "strokeWidth": 1.6, "color": "#5bb34a"}, "encoding": {"detail": {"field": "c"}}},
                {"data": {"name": "bars"}, "transform": [{"filter": "datum.p === 'c2' && datum.g === 'g'"}], "mark": {"type": "errorbar", "ticks": true, "size": 7, "thickness": 1.6, "color": "#5bb34a"}, "encoding": {"y2": {"field": "s2"}}},
                {"data": {"name": "cens"}, "transform": [{"filter": "datum.p === 'c2'"}], "mark": {"type": "tick", "orient": "vertical", "size": 6, "thickness": 1.5, "yOffset": -2}, "encoding": {"color": {"field": "g", "type": "nominal", "scale": {"domain": ["k","g"], "range": ["#111111","#5bb34a"]}, "legend": null}}},
                {"data": {"name": "pvals"}, "transform": [{"filter": "datum.p === 'c2'"}], "mark": {"type": "text", "fontSize": 18, "fontWeight": "bold", "color": "#111111"}, "encoding": {"text": {"field": "label", "type": "nominal"}}}
              ]
            }
          ]
        }
      ]
    }
  ]
}
